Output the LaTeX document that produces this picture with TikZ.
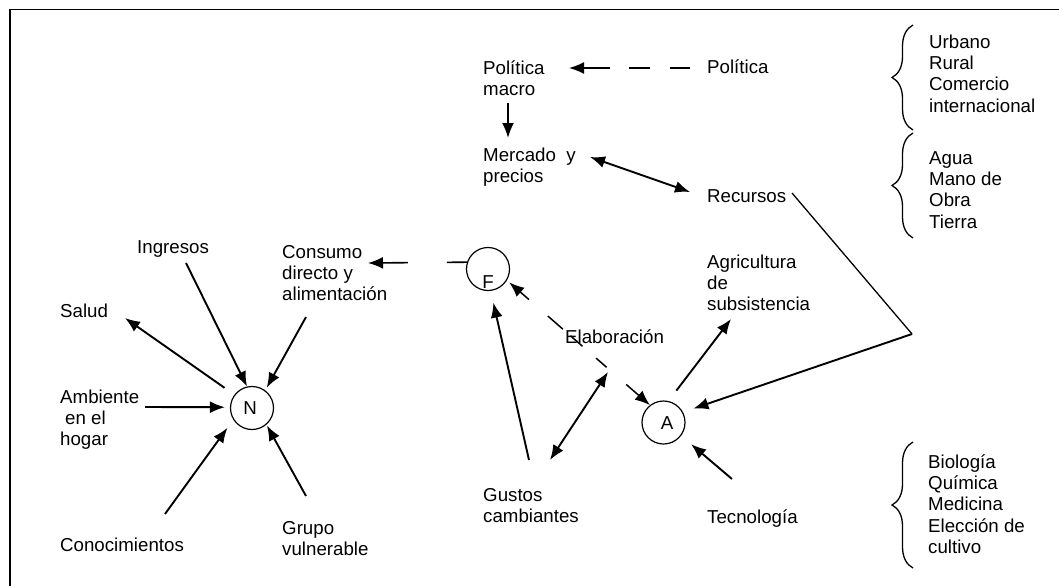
\documentclass[tikz,border=0pt]{standalone}
\usepackage{fontspec}
\setmainfont{Liberation Sans}
\usetikzlibrary{arrows.meta,decorations.pathreplacing}
\begin{document}
\begin{tikzpicture}[x=1pt,y=-1pt,
 lbl/.style={anchor=base west, inner sep=0pt, align=left, font=\fontsize{18.7}{21.4}\selectfont},
 letter/.style={anchor=center, inner sep=0pt, font=\fontsize{18.7}{21.4}\selectfont},
 circ/.style={draw, circle, minimum size=43pt, inner sep=0pt, line width=1.2pt},
 tip/.style={-{Latex[length=15pt,width=12pt]}},
 arr/.style={line width=1.9pt, tip},
 darr/.style={line width=1.9pt, {Latex[length=15pt,width=12pt]}-{Latex[length=15pt,width=12pt]}},
 thinline/.style={line width=1.3pt},
 br/.style={decorate, decoration={brace, amplitude=21pt}, line width=1.3pt}
]
\useasboundingbox (0,0) rectangle (1059,586);
% frame
\draw[line width=1.8pt] (10,586) -- (10,9.5) -- (1059,9.5);

% labels (anchor: baseline of last line)
\node[lbl] (pm) at (483,95.4) {Política\\macro};
\node[lbl] (pol) at (707,74) {Política};
\node[lbl] (mer) at (483,182.4) {Mercado\ \ y\\precios};
\node[lbl] (rec) at (707,202) {Recursos};
\node[lbl] (agr) at (707,310.8) {Agricultura\\de\\subsistencia};
\node[lbl] (cons) at (282,300.8) {Consumo\\directo y\\alimentación};
\node[lbl] (ing) at (137,253) {Ingresos};
\node[lbl] (sal) at (60,317) {Salud};
\node[lbl] (amb) at (60,445.8) {Ambiente\\\hspace{5pt}en el\\hogar};
\node[lbl] (con) at (60,551) {Conocimientos};
\node[lbl] (gru) at (282,555.4) {Grupo\\vulnerable};
\node[lbl] (gus) at (483,522.4) {Gustos\\cambiantes};
\node[lbl] (tec) at (707,523) {Tecnología};
\node[lbl] (ela) at (565,343) {Elaboración};
\node[lbl] (b1) at (929,112.2) {Urbano\\Rural\\Comercio\\internacional};
\node[lbl] (b2) at (929,228.2) {Agua\\Mano de\\Obra\\Tierra};
\node[lbl] (b3) at (928,553.6) {Biología\\Química\\Medicina\\Elección de\\cultivo};

% braces
\draw[br] (913,130) -- (913,25);
\draw[br] (913,238) -- (913,133);
\draw[br] (913,568) -- (913,442);

% circles
\node[circ] (N) at (252,408) {};
\node[letter] (Nl) at (250,408) {N};
\node[circ] (F) at (488,269) {};
\node[letter] (Fl) at (488,282) {F};
\node[circ] (A) at (663.5,422.5) {};
\node[letter] (Al) at (667,423) {A};

% coordinates for free ends
\coordinate (polS) at (690,68);
\coordinate (pmT) at (569,68);
\coordinate (pmS) at (508,103);
\coordinate (merT) at (508,138);
\coordinate (merE) at (590,157);
\coordinate (recW) at (690,192);
\coordinate (recS) at (792,193);
\coordinate (vert) at (912,334);
\coordinate (agrT) at (731,319);
\coordinate (ingS) at (186,263);
\coordinate (consS) at (306,317);
\coordinate (salT) at (125,318);
\coordinate (ambS) at (145,407);
\coordinate (conS) at (165,514);
\coordinate (gruS) at (306,496);
\coordinate (consT) at (368,263);
\coordinate (gusF) at (529,460);
\coordinate (gusE) at (550,460);
\coordinate (elaT) at (608,372);
\coordinate (tecS) at (732,479);

% top
\draw[line width=1.6pt, tip, dash pattern=on 20pt off 20pt on 21pt off 19pt on 80pt] (polS) -- (pmT);
\draw[arr] (pmS) -- (merT);
\draw[darr] (merE) -- (recW);
\draw[thinline] (recS) -- (vert);
\draw[arr, shorten >=11pt] (vert) -- (A.28);

% N
\draw[arr] (ingS) -- (N.103);
\draw[arr, shorten >=3pt] (consS) -- (N.53);
\draw[arr, shorten <=12pt] (N.143) -- (salT);
\draw[arr, shorten >=5pt] (ambS) -- (N.178);
\draw[arr, shorten >=10pt] (conS) -- (N.212);
\draw[arr, shorten >=1pt] (gruS) -- (N.311);

% F
\draw[line width=1.6pt, tip, dash pattern=on 20pt off 39pt on 80pt] (F.162) -- (consT);
\draw[arr, shorten >=12pt] (gusF) -- (F.277);
\draw[line width=1.5pt, {Latex[length=15pt,width=12pt]}-{Latex[length=15pt,width=12pt]}, dash pattern=on 12pt off 25pt on 20pt off 10pt on 16pt off 18pt on 14pt off 26pt on 60pt, shorten <=3pt] (F.329) -- (A.128);
\draw[darr] (gusE) -- (elaT);

% A
\draw[arr, shorten <=13pt] (A.77) -- (agrT);
\draw[arr, shorten >=13pt] (tecS) -- (A.323);
\end{tikzpicture}
\end{document}
